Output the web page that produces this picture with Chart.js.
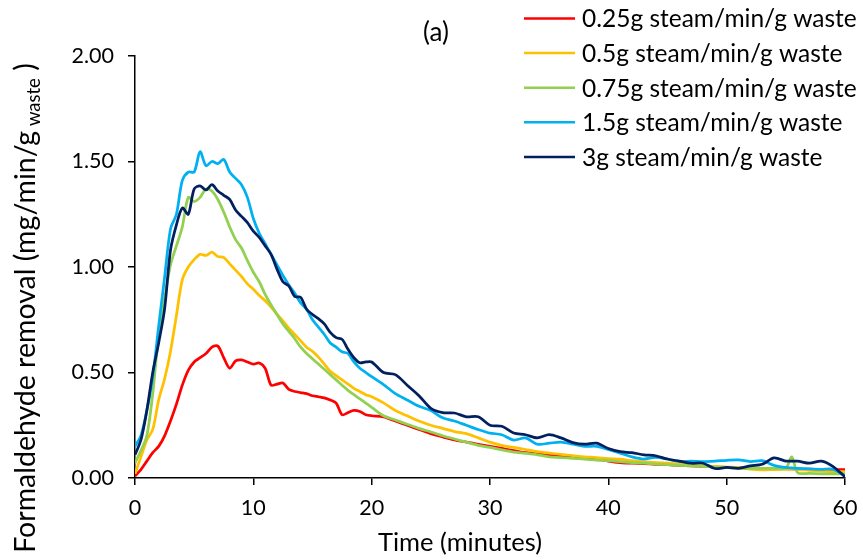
<!DOCTYPE html>
<html><head><meta charset="utf-8">
<script src="https://cdn.jsdelivr.net/npm/chart.js@4"></script>
<style>html,body{margin:0;padding:0;background:#fff}</style>
</head><body>
<canvas id="c" width="863" height="560"></canvas>
<script>
const times = [0,0.5,1,1.5,2,2.5,3,3.5,4,4.5,5,5.5,6,6.5,7,7.5,8,8.5,9,9.5,10,10.5,11,11.5,12,12.5,13,13.5,14,14.5,15,15.5,16,16.5,17,17.5,18,18.5,19,19.5,20,
21,22,23,24,25,26,27,28,29,30,31,32,33,34,35,36,37,38,39,40,41,42,43,44,45,46,47,48,49,50,51,52,53,54,55,55.5,56,57,58,59,60];

const steam025 = [0.01,0.04,0.08,0.12,0.15,0.20,0.27,0.35,0.44,0.51,0.55,0.57,0.59,0.62,0.625,0.57,0.52,0.555,0.56,0.55,0.54,0.545,0.52,0.44,0.445,0.45,0.42,0.41,0.405,0.40,0.39,0.385,0.38,0.37,0.355,0.30,0.31,0.32,0.315,0.30,0.295,
0.29,0.27,0.25,0.23,0.21,0.195,0.18,0.17,0.16,0.15,0.14,0.13,0.12,0.115,0.11,0.105,0.10,0.095,0.09,0.08,0.073,0.07,0.068,0.065,0.063,0.06,0.058,0.055,0.053,0.05,0.05,0.048,0.046,0.045,0.044,0.043,0.042,0.042,0.04,0.04,0.04];

const steam05 = [0.02,0.10,0.18,0.23,0.37,0.47,0.60,0.77,0.94,1.00,1.035,1.06,1.055,1.07,1.05,1.045,1.015,0.985,0.955,0.92,0.895,0.865,0.84,0.81,0.776,0.745,0.71,0.68,0.65,0.62,0.60,0.573,0.54,0.506,0.485,0.465,0.445,0.425,0.41,0.395,0.385,
0.356,0.32,0.295,0.27,0.25,0.235,0.22,0.21,0.19,0.17,0.155,0.145,0.135,0.125,0.118,0.112,0.106,0.10,0.097,0.092,0.089,0.082,0.077,0.073,0.07,0.066,0.062,0.058,0.055,0.052,0.05,0.042,0.038,0.04,0.041,0.041,0.04,0.036,0.033,0.03,0.03];

const steam075 = [0.07,0.13,0.20,0.40,0.68,0.85,1.01,1.10,1.19,1.33,1.31,1.33,1.37,1.36,1.32,1.26,1.19,1.13,1.09,1.03,0.975,0.93,0.87,0.82,0.775,0.73,0.695,0.66,0.62,0.59,0.565,0.54,0.515,0.49,0.465,0.44,0.415,0.395,0.375,0.355,0.335,
0.295,0.275,0.255,0.235,0.218,0.20,0.185,0.17,0.155,0.145,0.133,0.123,0.117,0.11,0.10,0.097,0.093,0.09,0.085,0.082,0.078,0.073,0.07,0.066,0.063,0.06,0.057,0.055,0.052,0.05,0.046,0.046,0.046,0.046,0.047,0.10,0.025,0.022,0.02,0.019,0.02];

const steam15 = [0.15,0.20,0.32,0.48,0.72,0.95,1.18,1.25,1.41,1.45,1.45,1.546,1.48,1.50,1.49,1.51,1.45,1.42,1.39,1.33,1.23,1.16,1.11,1.06,1.01,0.96,0.915,0.875,0.83,0.80,0.75,0.715,0.68,0.64,0.62,0.598,0.59,0.55,0.52,0.50,0.48,
0.443,0.40,0.37,0.34,0.32,0.285,0.27,0.25,0.23,0.213,0.205,0.18,0.19,0.16,0.165,0.17,0.16,0.15,0.15,0.135,0.118,0.10,0.09,0.098,0.09,0.078,0.08,0.078,0.08,0.084,0.086,0.078,0.082,0.06,0.05,0.048,0.046,0.043,0.041,0.041,0.01];

const steam3 = [0.11,0.18,0.32,0.50,0.64,0.80,1.08,1.20,1.28,1.25,1.37,1.385,1.365,1.39,1.36,1.34,1.32,1.27,1.24,1.21,1.17,1.14,1.10,1.06,0.99,0.93,0.91,0.86,0.856,0.80,0.775,0.755,0.73,0.69,0.665,0.657,0.61,0.57,0.546,0.55,0.55,
0.50,0.49,0.44,0.39,0.33,0.31,0.308,0.29,0.29,0.25,0.245,0.213,0.205,0.19,0.205,0.19,0.168,0.16,0.165,0.14,0.125,0.12,0.11,0.105,0.09,0.08,0.07,0.07,0.045,0.05,0.046,0.057,0.065,0.095,0.08,0.08,0.08,0.07,0.08,0.054,0.005];

const seriesLabels = ["0.25g steam/min/g waste","0.5g steam/min/g waste","0.75g steam/min/g waste","1.5g steam/min/g waste","3g steam/min/g waste"];
const seriesValues = [steam025, steam05, steam075, steam15, steam3];
const seriesColors = ["#FF0000","#FFC000","#92D050","#00B0F0","#002060"];
const xTickStep = 10;
const yTickStep = 0.5;

const FONT = "Lato, 'Liberation Sans', sans-serif";

const datasets = seriesValues.map((vals, i) => ({
  label: seriesLabels[i],
  data: vals.map((v, k) => ({x: times[k], y: v})),
  borderColor: seriesColors[i],
  backgroundColor: seriesColors[i],
  borderWidth: 2.75,
  pointRadius: 0,
  tension: 0.3,
  fill: false,
  order: seriesValues.length - i
}));

const decor = {
  id: 'decor',
  afterDraw(chart) {
    const ctx = chart.ctx;
    ctx.save();
    ctx.fillStyle = '#000';
    // title
    ctx.font = "26px " + FONT;
    ctx.textAlign = 'center';
    ctx.textBaseline = 'middle';
    ctx.fillText('(a)', 436, 33);
    // legend
    chart.data.datasets.forEach((ds, i) => {
      const y = 18.5 + i * 34.6;
      ctx.strokeStyle = ds.borderColor;
      ctx.lineWidth = 2.5;
      ctx.beginPath(); ctx.moveTo(524, y); ctx.lineTo(575, y); ctx.stroke();
      ctx.fillStyle = '#000';
      ctx.textAlign = 'left';
      ctx.font = "24.5px " + FONT;
      ctx.fillText(ds.label, 582, y + 1);
    });
    // x title
    ctx.textAlign = 'center';
    ctx.font = "25.5px " + FONT;
    ctx.fillText('Time (minutes)', 460, 543);
    // y title with subscript
    ctx.translate(26, 308);
    ctx.rotate(-Math.PI / 2);
    const mainTxt = 'Formaldehyde removal (mg/min/g';
    const subTxt = ' waste';
    const endTxt = ' )';
    const mainSize = 28.5, subSize = 18.5;
    ctx.font = mainSize + "px " + FONT;
    const w1 = ctx.measureText(mainTxt).width;
    const w3 = ctx.measureText(endTxt).width;
    ctx.font = subSize + "px " + FONT;
    const w2 = ctx.measureText(subTxt).width;
    const total = w1 + w2 + w3;
    let x = -total / 2;
    ctx.textAlign = 'left';
    ctx.textBaseline = 'alphabetic';
    ctx.font = mainSize + "px " + FONT;
    ctx.fillText(mainTxt, x, 9); x += w1;
    ctx.font = subSize + "px " + FONT;
    ctx.fillText(subTxt, x, 14); x += w2;
    ctx.font = mainSize + "px " + FONT;
    ctx.fillText(endTxt, x, 9);
    ctx.restore();
  }
};

new Chart(document.getElementById('c'), {
  type: 'line',
  data: { datasets },
  options: {
    responsive: false,
    animation: false,
    devicePixelRatio: 1,
    layout: { padding: { left: 0, right: 18, top: 56, bottom: 0 } },
    plugins: { legend: { display: false }, tooltip: { enabled: false }, title: { display: false } },
    scales: {
      x: {
        type: 'linear', min: 0, max: 60,
        ticks: { stepSize: xTickStep, color: '#000', font: { family: FONT, size: 21.5 }, padding: 10, maxRotation: 0 },
        grid: { drawOnChartArea: false, drawTicks: true, tickLength: 7, color: '#000', lineWidth: 1.5 },
        border: { display: true, color: '#000', width: 1.5 },
        afterFit(s) { s.height = 82; s.paddingRight = 0; s.paddingLeft = 0; }
      },
      y: {
        type: 'linear', min: 0, max: 2,
        ticks: { stepSize: yTickStep, color: '#000', font: { family: FONT, size: 21.5 }, padding: 14, callback: v => v.toFixed(2) },
        grid: { drawOnChartArea: false, drawTicks: true, tickLength: 7, color: '#000', lineWidth: 1.5 },
        border: { display: true, color: '#000', width: 1.5 },
        afterFit(s) { s.width = 135; s.paddingTop = 0; s.paddingBottom = 0; }
      }
    }
  },
  plugins: [decor]
});
</script>
</body></html>
